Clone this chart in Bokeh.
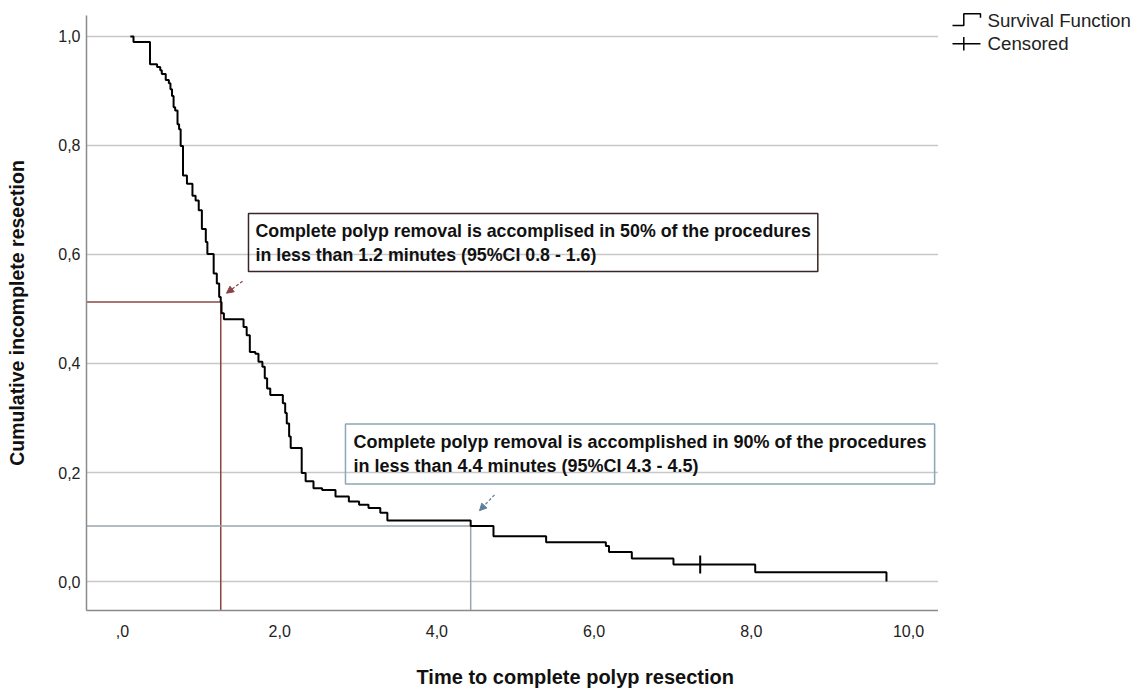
import math
from bokeh.plotting import figure
from bokeh.layouts import row
from bokeh.models import (Range1d, FixedTicker, Label, Arrow, NormalHead, Title)
from bokeh.core.properties import value
from bokeh.embed import file_html
from bokeh.resources import INLINE

# ---- data (Kaplan-Meier steps) ----
times = [0.10, 0.14, 0.35, 0.44, 0.48, 0.50, 0.55, 0.59, 0.61, 0.63, 0.65,
         0.67, 0.70, 0.72, 0.74, 0.77, 0.82, 0.89, 0.93, 0.97, 1.01, 1.06,
         1.08, 1.16, 1.20, 1.23, 1.25, 1.26, 1.29, 1.54, 1.58, 1.62, 1.69,
         1.73, 1.78, 1.81, 1.84, 1.88, 2.04, 2.07, 2.09, 2.12, 2.14, 2.28,
         2.33, 2.43, 2.54, 2.71, 2.88, 3.01, 3.13, 3.28, 3.37, 4.43, 4.72,
         5.39, 6.15, 6.19, 6.48, 7.01, 8.05, 9.72]
surv = [1.000, 0.990, 0.949, 0.944, 0.938, 0.931, 0.920, 0.914, 0.903, 0.891,
        0.870, 0.864, 0.839, 0.830, 0.799, 0.745, 0.730, 0.708, 0.699, 0.681,
        0.647, 0.623, 0.601, 0.565, 0.547, 0.522, 0.513, 0.492, 0.481, 0.467,
        0.452, 0.421, 0.418, 0.403, 0.394, 0.373, 0.354, 0.342, 0.327, 0.309,
        0.290, 0.266, 0.245, 0.199, 0.184, 0.171, 0.168, 0.156, 0.147, 0.141,
        0.135, 0.126, 0.112, 0.102, 0.083, 0.072, 0.065, 0.054, 0.042, 0.031,
        0.017, 0.000]
censor_t = [7.35]
censor_s = [0.031]

median_t = [1.25]
median_s = [0.513]
t90 = [4.43]
s90 = [0.102]

x_ticks = [0, 2, 4, 6, 8, 10]
x_tick_labels = [",0", "2,0", "4,0", "6,0", "8,0", "10,0"]
y_ticks = [0.0, 0.2, 0.4, 0.6, 0.8, 1.0]
y_tick_labels = ["0,0", "0,2", "0,4", "0,6", "0,8", "1,0"]

x_title = "Time to complete polyp resection"
y_title = "Cumulative incomplete resection"
note1 = ("Complete polyp removal is accomplised in 50% of the procedures\n"
         "in less than 1.2 minutes (95%CI 0.8 - 1.6)")
note2 = ("Complete polyp removal is accomplished in 90% of the procedures\n"
         "in less than 4.4 minutes (95%CI 4.3 - 4.5)")
legend_labels = ["Survival Function", "Censored"]

X0, X1 = -0.458, 10.382
Y0, Y1 = -0.0532, 1.0385
FONT = "Liberation Sans"

p = figure(width=938, height=695, x_range=Range1d(X0, X1),
           y_range=Range1d(Y0, Y1), output_backend="svg",
           toolbar_location=None, min_border_left=86, min_border_right=0,
           min_border_top=15, min_border_bottom=85)
p.outline_line_color = None
p.frame_align = False

p.xgrid.visible = False
p.ygrid.ticker = FixedTicker(ticks=y_ticks)
p.ygrid.grid_line_color = "#c8c8c8"
p.ygrid.grid_line_width = 1.5

for ax, ticks, labels in ((p.xaxis[0], x_ticks, x_tick_labels),
                          (p.yaxis[0], y_ticks, y_tick_labels)):
    ax.ticker = FixedTicker(ticks=ticks)
    ax.major_label_overrides = {t: l for t, l in zip(ticks, labels)}
    ax.major_tick_line_color = None
    ax.minor_tick_line_color = None
    ax.major_tick_out = 0
    ax.major_tick_in = 0
    ax.minor_tick_out = 0
    ax.axis_line_color = "#8a8a8a"
    ax.axis_line_width = 1.5
    ax.major_label_text_font = FONT
    ax.major_label_text_font_size = "16px"
    ax.major_label_text_color = "#222222"
    ax.axis_label_text_font = FONT
    ax.axis_label_text_font_style = "bold"
    ax.axis_label_text_font_size = "19.5px"
    ax.axis_label_text_color = "#111111"

p.yaxis.axis_label = y_title
p.xaxis.major_label_standoff = 14
p.yaxis.major_label_standoff = 6
p.yaxis.axis_label_standoff = 27

# spacer between the x axis and its title, then the title itself
p.add_layout(Title(text="\u00a0", text_font_size="10px", standoff=9), "below")
p.add_layout(Title(text=x_title, align="left", vertical_align="bottom",
                   offset=330, standoff=4,
                   text_font=FONT, text_font_style="bold",
                   text_font_size="20px", text_color="#111111"), "below")

# reference lines (median and 90%)
red = "#8b4444"
grey = "#9aa6ae"
p.segment(x0=[X0], y0=median_s, x1=median_t, y1=median_s, line_color=red, line_width=1.5)
p.segment(x0=median_t, y0=[Y0], x1=median_t, y1=median_s, line_color=red, line_width=1.5)
p.segment(x0=[X0], y0=s90, x1=t90, y1=s90, line_color=grey, line_width=1.5)
p.segment(x0=t90, y0=[Y0], x1=t90, y1=s90, line_color=grey, line_width=1.5)

p.step(x=times, y=surv, mode="after", line_color="black", line_width=2)
p.scatter(x=censor_t, y=censor_s, marker="dash", angle=math.pi / 2,
          size=18, line_color="black", line_width=2)

# annotations
p.add_layout(Label(x=1.603, y=0.675, text=note1, text_font=FONT,
                   text_font_style="bold", text_font_size="17.8px",
                   text_align="left", text_baseline="top", text_color="#111111",
                   text_line_height=1.2, padding=7,
                   border_line_color="#3a2626", border_line_width=1.5,
                   background_fill_color=None))
p.add_layout(Label(x=2.837, y=0.289, text=note2, text_font=FONT,
                   text_font_style="bold", text_font_size="18px",
                   text_align="left", text_baseline="top", text_color="#111111",
                   text_line_height=1.2, padding=8,
                   border_line_color="#8fa6b4", border_line_width=1.5,
                   background_fill_color=None))

p.add_layout(Arrow(x_start=1.527, y_start=0.551, x_end=1.323, y_end=0.529,
                   line_color=red, line_width=1.2, line_dash="3 2",
                   end=NormalHead(size=7, fill_color=red, line_color=red)))
p.add_layout(Arrow(x_start=4.733, y_start=0.159, x_end=4.542, y_end=0.130,
                   line_color="#5f7f9a", line_width=1.2, line_dash="3 2",
                   end=NormalHead(size=7, fill_color="#5f7f9a", line_color="#5f7f9a")))

# legend panel to the right of the chart (pixel-like coordinates, y down)
LW, LH = 199, 695
lf = figure(width=LW, height=LH, x_range=Range1d(0, LW), y_range=Range1d(LH, 0),
            output_backend="svg", toolbar_location=None,
            x_axis_type=None, y_axis_type=None, min_border=0)
lf.outline_line_color = None
lf.frame_align = False
lf.xgrid.visible = False
lf.ygrid.visible = False
# step icon for "Survival Function"
lf.line(x=[14, 25.3, 25.3, 42, 42], y=[25, 25, 13.3, 13.3, 17.3],
        line_color="black", line_width=1.5)
# cross icon for "Censored"
lf.line(x=[14, 42], y=[43.3, 43.3], line_color="black", line_width=1.5)
lf.line(x=[25.3, 25.3], y=[36.5, 50], line_color="black", line_width=1.5)
lf.text(x=[49, 49], y=[20, 43.3], text=legend_labels,
        text_font=value(FONT), text_font_size="18.7px", text_color="#222222",
        text_baseline="middle", text_align="left")

open("out.html", "w").write(file_html(row(p, lf), INLINE))
